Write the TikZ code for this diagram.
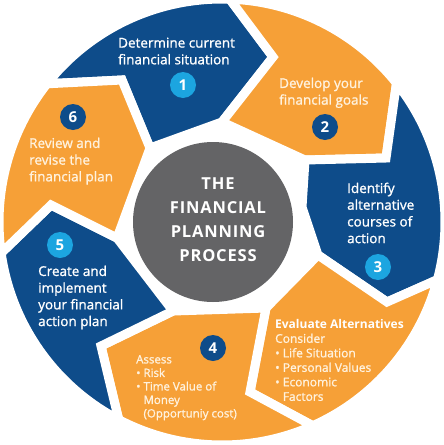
\documentclass[tikz,border=0pt]{standalone}
\usepackage{fontspec}
\setmainfont{Open Sans}[FakeBold=1.2]
\newfontfamily\headfont{Open Sans}[LetterSpace=5]
\newfontfamily\plainfont{Open Sans}
\usetikzlibrary{calc}
\definecolor{fpblue}{HTML}{0E4C8A}
\definecolor{fporange}{HTML}{F6A037}
\definecolor{fpgray}{HTML}{646466}
\definecolor{fplight}{HTML}{1CA5E0}
\definecolor{fpcream}{HTML}{FFF2DE}
\def\R{223}
\begin{document}
\begin{tikzpicture}[x=1pt,y=-1pt,
  seg/.style={draw=white, line width=9pt, line join=miter},
  numlight/.style={circle, fill=fplight, minimum size=26pt, inner sep=0pt, text=white, font=\fontsize{15}{15}\headfont\bfseries},
  numdark/.style={circle, fill=fpblue, minimum size=26pt, inner sep=0pt, text=white, font=\fontsize{15}{15}\headfont\bfseries},
  lbl/.style={anchor=north west, inner sep=0pt, align=left, font=\fontsize{13.5}{16.7}\selectfont},
  small/.style={anchor=north west, inner sep=0pt, align=left, text=fpcream, font=\fontsize{12}{14.5}\selectfont}]
\useasboundingbox (0,0) rectangle (444,445);
\fill[white] (0,0) rectangle (444,445);
\coordinate (co) at (222,222);
\coordinate (O61) at ($(co)+(-141.7:\R)$);
\coordinate (O12) at ($(co)+(-88:\R)$);
\coordinate (O23) at ($(co)+(-38.5:\R)$);
\coordinate (O3E) at ($(co)+(15:\R)$);
\coordinate (OE4) at ($(co)+(66:\R)$);
\coordinate (O45) at ($(co)+(117.6:\R)$);
\coordinate (O56) at ($(co)+(172:\R)$);
\coordinate (T12) at (273,57);
\coordinate (I12) at (222,122);
\coordinate (T23) at (386,158);
\coordinate (I23) at (305,160);
\coordinate (T3E) at (387,302);
\coordinate (I3E) at (318,255);
\coordinate (I3m) at (302,207);
\coordinate (TE4) at (250,392);
\coordinate (IE4) at (266,308);
\coordinate (T45) at (101,346);
\coordinate (I45) at (173,311);
\coordinate (T56) at (51,205);
\coordinate (I56) at (117,238);
\coordinate (T61) at (122,80);
\coordinate (I61) at (150,148);
% segments
\filldraw[seg, fill=fpblue] (O61) arc[start angle=-141.7, end angle=-88, radius=\R] -- (T12) -- (I12) -- (I61) -- (T61) -- cycle;
\filldraw[seg, fill=fporange] (O12) arc[start angle=-88, end angle=-38.5, radius=\R] -- (T23) -- (I23) -- (I12) -- (T12) -- cycle;
\filldraw[seg, fill=fpblue] (O23) arc[start angle=-38.5, end angle=15, radius=\R] -- (T3E) -- (I3E) -- (I3m) -- (I23) -- (T23) -- cycle;
\filldraw[seg, fill=fporange] (O3E) arc[start angle=15, end angle=66, radius=\R] -- (TE4) -- (IE4) -- (I3E) -- (T3E) -- cycle;
\filldraw[seg, fill=fporange] (OE4) arc[start angle=66, end angle=117.6, radius=\R] -- (T45) -- (I45) -- (IE4) -- (TE4) -- cycle;
\filldraw[seg, fill=fpblue] (O45) arc[start angle=117.6, end angle=172, radius=\R] -- (T56) -- (I56) -- (I45) -- (T45) -- cycle;
\filldraw[seg, fill=fporange] (O56) arc[start angle=172, end angle=218.3, radius=\R] -- (T61) -- (I61) -- (I56) -- (T56) -- cycle;
% centre
\fill[fpgray] (213,222) circle[radius=80];
\node[align=center, inner sep=0pt, text=white, font=\fontsize{16.5}{24}\headfont\bfseries] (centre) at (218,220) {THE\\FINANCIAL\\PLANNING\\PROCESS};
% labels
\node[lbl, text=white] (l1) at (118,37.5) {Determine current\\financial situation};
\node[lbl, text=fpcream] (l2) at (279,77.5) {Develop your\\financial goals};
\node[lbl, text=white] (l3) at (347,182.5) {Identify\\alternative\\courses of\\action};
\node[small] (le) at (275,319) {\textcolor{white}{\plainfont\bfseries Evaluate Alternatives}\\Consider\\• Life Situation\\• Personal Values\\• Economic\\\hphantom{• }Factors};
\node[small, font=\fontsize{11.5}{13.5}\selectfont] (l4) at (136,355) {Assess\\• Risk\\• Time Value of\\\hphantom{• }Money\\\hphantom{• }(Opportuniy cost)};
\node[lbl, text=white] (l5) at (38,265.5) {Create and\\implement\\your financial\\action plan};
\node[lbl, text=fpcream] (l6) at (29,137.5) {Review and\\revise the\\financial plan};
% numbers
\node[numlight] (n1) at (183,85) {1};
\node[numdark] (n2) at (325,127) {2};
\node[numlight] (n3) at (378,267) {3};
\node[numdark] (n4) at (213,348) {4};
\node[numlight] (n5) at (60,245) {5};
\node[numdark] (n6) at (73,117) {6};
\end{tikzpicture}
\end{document}
